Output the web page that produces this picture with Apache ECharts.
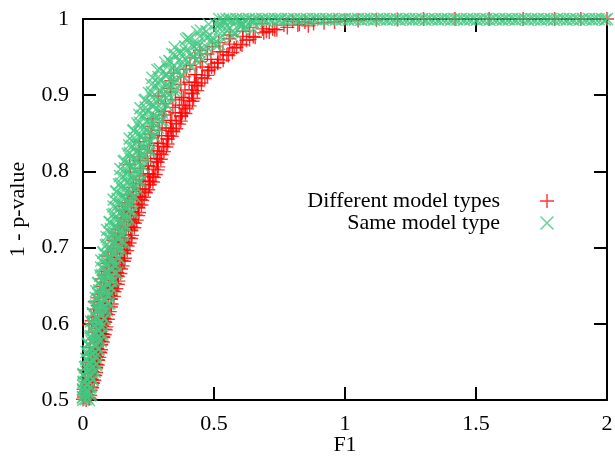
<!DOCTYPE html>
<html><head><meta charset="utf-8">
<script src="https://cdn.jsdelivr.net/npm/echarts@6/dist/echarts.min.js"></script>
<style>html,body{margin:0;padding:0;background:#fff}#c{width:615px;height:456px}</style>
</head><body><div id="c"></div>
<script>
const seriesNames = ['Different model types', 'Same model type'];
const xTicks = [0, 0.5, 1, 1.5, 2];
const yTicks = [0.5, 0.6, 0.7, 0.8, 0.9, 1];

const diffCurve = [
[0.025,0.502],[0.012,0.500],[0.004,0.504],[0.000,0.501],
[0.028,0.512],[0.014,0.507],[0.002,0.514],[0.008,0.509],
[0.038,0.522],[0.031,0.517],[0.017,0.524],[0.005,0.519],
[0.047,0.532],[0.034,0.527],[0.022,0.534],[0.007,0.529],
[0.050,0.542],[0.036,0.537],[0.024,0.544],[0.009,0.539],
[0.058,0.552],[0.051,0.547],[0.037,0.554],[0.025,0.549],
[0.066,0.562],[0.053,0.557],[0.041,0.564],[0.026,0.559],
[0.069,0.572],[0.055,0.567],[0.043,0.574],[0.028,0.569],
[0.078,0.582],[0.071,0.577],[0.057,0.584],[0.045,0.579],
[0.087,0.592],[0.074,0.587],[0.062,0.594],[0.047,0.589],
[0.085,0.602],[0.058,0.597],[0.033,0.604],[0.023,0.599],
[0.096,0.612],[0.082,0.607],[0.055,0.614],[0.040,0.609],
[0.107,0.622],[0.082,0.617],[0.057,0.624],[0.042,0.619],
[0.107,0.632],[0.080,0.627],[0.055,0.634],[0.045,0.629],
[0.120,0.642],[0.106,0.637],[0.079,0.644],[0.064,0.639],
[0.133,0.652],[0.108,0.647],[0.083,0.654],[0.068,0.649],
[0.133,0.662],[0.106,0.657],[0.081,0.664],[0.071,0.659],
[0.145,0.672],[0.131,0.667],[0.104,0.674],[0.089,0.669],
[0.157,0.682],[0.132,0.677],[0.107,0.684],[0.092,0.679],
[0.158,0.692],[0.131,0.687],[0.106,0.694],[0.096,0.689],
[0.171,0.702],[0.157,0.697],[0.130,0.704],[0.115,0.699],
[0.184,0.712],[0.159,0.707],[0.134,0.714],[0.119,0.709],
[0.185,0.722],[0.158,0.717],[0.133,0.724],[0.123,0.719],
[0.198,0.732],[0.184,0.727],[0.157,0.734],[0.142,0.729],
[0.211,0.742],[0.186,0.737],[0.161,0.744],[0.146,0.739],
[0.212,0.752],[0.185,0.747],[0.160,0.754],[0.150,0.749],
[0.226,0.762],[0.212,0.757],[0.185,0.764],[0.170,0.759],
[0.240,0.772],[0.215,0.767],[0.190,0.774],[0.175,0.769],
[0.254,0.782],[0.227,0.777],[0.202,0.784],[0.192,0.779],
[0.271,0.792],[0.257,0.787],[0.230,0.794],[0.215,0.789],
[0.285,0.802],[0.252,0.797],[0.220,0.804],[0.181,0.799],
[0.285,0.812],[0.249,0.807],[0.217,0.814],[0.178,0.809],
[0.300,0.822],[0.282,0.817],[0.246,0.824],[0.214,0.819],
[0.318,0.832],[0.285,0.827],[0.253,0.834],[0.214,0.829],
[0.323,0.842],[0.287,0.837],[0.255,0.844],[0.216,0.839],
[0.345,0.852],[0.327,0.847],[0.291,0.854],[0.259,0.849],
[0.367,0.862],[0.334,0.857],[0.302,0.864],[0.263,0.859],
[0.375,0.872],[0.339,0.867],[0.307,0.874],[0.268,0.869],
[0.397,0.882],[0.379,0.877],[0.343,0.884],[0.311,0.879],
[0.418,0.892],[0.385,0.887],[0.353,0.894],[0.314,0.889],
[0.419,0.902],[0.376,0.897],[0.336,0.904],[0.288,0.899],
[0.439,0.912],[0.416,0.907],[0.373,0.914],[0.333,0.909],
[0.465,0.922],[0.425,0.917],[0.385,0.924],[0.337,0.919],
[0.477,0.932],[0.434,0.927],[0.394,0.934],[0.346,0.929],
[0.514,0.942],[0.491,0.937],[0.448,0.944],[0.408,0.939],
[0.555,0.952],[0.515,0.947],[0.475,0.954],[0.427,0.949],
[0.577,0.962],[0.534,0.957],[0.494,0.964],[0.446,0.959],
[0.624,0.972],[0.601,0.967],[0.558,0.974],[0.518,0.969],
[0.690,0.982],[0.650,0.977],[0.610,0.984],[0.562,0.979],
[0.767,0.992],[0.724,0.987],[0.684,0.994],[0.636,0.989]
];
const diffHalf = [
[0.028,0.506],[0.021,0.503],[0.013,0.507],
[0.035,0.516],[0.029,0.513],[0.020,0.517],
[0.043,0.526],[0.036,0.523],[0.028,0.527],
[0.050,0.536],[0.043,0.533],[0.035,0.537],
[0.056,0.546],[0.050,0.543],[0.041,0.547],
[0.062,0.556],[0.056,0.553],[0.047,0.557],
[0.069,0.566],[0.062,0.563],[0.054,0.567],
[0.076,0.576],[0.069,0.573],[0.061,0.577],
[0.083,0.586],[0.076,0.583],[0.068,0.587],
[0.089,0.596],[0.083,0.593],[0.074,0.597],
[0.095,0.606],[0.082,0.603],[0.065,0.607],
[0.102,0.616],[0.089,0.613],[0.072,0.617],
[0.109,0.626],[0.096,0.623],[0.079,0.627],
[0.118,0.636],[0.105,0.633],[0.088,0.637],
[0.127,0.646],[0.114,0.643],[0.097,0.647],
[0.135,0.656],[0.122,0.653],[0.105,0.657],
[0.143,0.666],[0.130,0.663],[0.113,0.667],
[0.151,0.676],[0.138,0.673],[0.121,0.677],
[0.160,0.686],[0.147,0.683],[0.130,0.687],
[0.169,0.696],[0.156,0.693],[0.139,0.697],
[0.178,0.706],[0.165,0.703],[0.148,0.707],
[0.187,0.716],[0.174,0.713],[0.157,0.717],
[0.196,0.726],[0.183,0.723],[0.166,0.727],
[0.205,0.736],[0.192,0.733],[0.175,0.737],
[0.214,0.746],[0.201,0.743],[0.184,0.747],
[0.223,0.756],[0.210,0.753],[0.193,0.757],
[0.233,0.766],[0.220,0.763],[0.203,0.767],
[0.249,0.776],[0.236,0.773],[0.219,0.777],
[0.267,0.786],[0.254,0.783],[0.237,0.787],
[0.278,0.796],[0.265,0.793],[0.248,0.797],
[0.287,0.806],[0.270,0.803],[0.248,0.807],
[0.297,0.816],[0.280,0.813],[0.258,0.817],
[0.309,0.826],[0.292,0.823],[0.270,0.827],
[0.323,0.836],[0.306,0.833],[0.284,0.837],
[0.339,0.846],[0.322,0.843],[0.300,0.847],
[0.356,0.856],[0.339,0.853],[0.317,0.857],
[0.373,0.866],[0.356,0.863],[0.334,0.867],
[0.391,0.876],[0.374,0.873],[0.352,0.877],
[0.407,0.886],[0.390,0.883],[0.368,0.887],
[0.422,0.896],[0.405,0.893],[0.383,0.897],
[0.436,0.906],[0.415,0.903],[0.389,0.907],
[0.452,0.916],[0.431,0.913],[0.405,0.917],
[0.475,0.926],[0.454,0.923],[0.428,0.927],
[0.502,0.936],[0.481,0.933],[0.455,0.937],
[0.535,0.946],[0.514,0.943],[0.488,0.947],
[0.570,0.956],[0.549,0.953],[0.523,0.957],
[0.607,0.966],[0.586,0.963],[0.560,0.967],
[0.657,0.976],[0.636,0.973],[0.610,0.977],
[0.732,0.986],[0.711,0.983],[0.685,0.987],
[0.847,0.996],[0.826,0.993],[0.800,0.997]
];
const diffTop = [
[0.70,0.984],[0.74,0.986],[0.78,0.989],[0.82,0.992],[0.86,0.991],[0.88,0.994],
[0.92,0.995],[0.96,0.996],[1.00,0.997],[1.05,0.998],[1.12,0.999],[1.20,0.9995],
[1.30,1],[1.42,1],[1.55,1],[1.68,1],[1.80,1],[1.90,1],[2.00,1]
];
const sameCurve = [
[0.000,0.503],[0.001,0.500],[0.011,0.501],[0.023,0.500],
[0.000,0.513],[0.010,0.508],[0.020,0.511],[0.030,0.507],
[0.002,0.523],[0.007,0.518],[0.019,0.521],[0.029,0.517],
[0.000,0.533],[0.013,0.528],[0.029,0.531],[0.038,0.527],
[0.007,0.543],[0.021,0.538],[0.032,0.541],[0.045,0.537],
[0.017,0.553],[0.030,0.548],[0.041,0.551],[0.052,0.547],
[0.013,0.563],[0.026,0.558],[0.039,0.561],[0.050,0.557],
[0.018,0.573],[0.033,0.568],[0.050,0.571],[0.059,0.567],
[0.026,0.583],[0.040,0.578],[0.052,0.581],[0.067,0.577],
[0.036,0.593],[0.050,0.588],[0.062,0.591],[0.074,0.587],
[0.030,0.603],[0.045,0.598],[0.060,0.601],[0.073,0.597],
[0.038,0.613],[0.053,0.608],[0.071,0.611],[0.082,0.607],
[0.045,0.623],[0.062,0.618],[0.075,0.621],[0.091,0.617],
[0.056,0.633],[0.073,0.628],[0.087,0.631],[0.101,0.627],
[0.050,0.643],[0.067,0.638],[0.085,0.641],[0.099,0.637],
[0.058,0.653],[0.076,0.648],[0.097,0.651],[0.109,0.647],
[0.066,0.663],[0.085,0.658],[0.100,0.661],[0.119,0.657],
[0.078,0.673],[0.097,0.668],[0.113,0.671],[0.129,0.667],
[0.070,0.683],[0.090,0.678],[0.110,0.681],[0.126,0.677],
[0.078,0.693],[0.099,0.688],[0.123,0.691],[0.136,0.687],
[0.087,0.703],[0.108,0.698],[0.126,0.701],[0.147,0.697],
[0.100,0.713],[0.122,0.708],[0.140,0.711],[0.158,0.707],
[0.092,0.723],[0.114,0.718],[0.136,0.721],[0.155,0.717],
[0.102,0.733],[0.125,0.728],[0.151,0.731],[0.166,0.727],
[0.112,0.743],[0.135,0.738],[0.155,0.741],[0.178,0.737],
[0.126,0.753],[0.150,0.748],[0.170,0.751],[0.190,0.747],
[0.117,0.763],[0.141,0.758],[0.165,0.761],[0.185,0.757],
[0.127,0.773],[0.152,0.768],[0.180,0.771],[0.197,0.767],
[0.137,0.783],[0.163,0.778],[0.184,0.781],[0.209,0.777],
[0.153,0.793],[0.178,0.788],[0.199,0.791],[0.220,0.787],
[0.143,0.803],[0.169,0.798],[0.195,0.801],[0.216,0.797],
[0.155,0.813],[0.181,0.808],[0.211,0.811],[0.228,0.807],
[0.171,0.823],[0.196,0.818],[0.218,0.821],[0.244,0.817],
[0.188,0.833],[0.214,0.828],[0.236,0.831],[0.258,0.827],
[0.178,0.843],[0.205,0.838],[0.232,0.841],[0.255,0.837],
[0.192,0.853],[0.219,0.848],[0.251,0.851],[0.270,0.847],
[0.207,0.863],[0.236,0.858],[0.259,0.861],[0.287,0.857],
[0.227,0.873],[0.256,0.868],[0.280,0.871],[0.304,0.867],
[0.219,0.883],[0.248,0.878],[0.278,0.881],[0.302,0.877],
[0.235,0.893],[0.265,0.888],[0.300,0.891],[0.320,0.887],
[0.252,0.903],[0.282,0.898],[0.307,0.901],[0.337,0.897],
[0.274,0.913],[0.305,0.908],[0.331,0.911],[0.357,0.907],
[0.265,0.923],[0.297,0.918],[0.329,0.921],[0.355,0.917],
[0.284,0.933],[0.317,0.928],[0.355,0.931],[0.376,0.927],
[0.314,0.943],[0.348,0.938],[0.377,0.941],[0.412,0.937],
[0.351,0.953],[0.390,0.948],[0.423,0.951],[0.455,0.947],
[0.350,0.963],[0.392,0.958],[0.434,0.961],[0.469,0.957],
[0.393,0.973],[0.438,0.968],[0.490,0.971],[0.520,0.967],
[0.436,0.983],[0.484,0.978],[0.524,0.981],[0.572,0.977],
[0.506,0.993],[0.560,0.988],[0.605,0.991],[0.650,0.987],
[0.40,0.975],[0.45,0.985],[0.52,0.992],[0.47,0.975],[0.55,0.985],[0.60,0.993],
[0.42,0.965],[0.37,0.955],[0.33,0.945],[0.44,0.958],[0.50,0.968],[0.58,0.982],
[0.65,0.995],[0.62,0.990],[0.70,0.997],[0.54,0.996],[0.48,0.993],[0.75,0.998]
];
const sameHalf = [
[0.000,0.504],[0.006,0.507],[0.017,0.503],[0.027,0.506],
[0.000,0.514],[0.004,0.517],[0.015,0.513],[0.025,0.516],
[0.003,0.524],[0.015,0.527],[0.027,0.523],[0.037,0.526],
[0.002,0.534],[0.013,0.537],[0.025,0.533],[0.036,0.536],
[0.012,0.544],[0.025,0.547],[0.037,0.543],[0.048,0.546],
[0.012,0.554],[0.023,0.557],[0.035,0.553],[0.046,0.556],
[0.021,0.564],[0.035,0.567],[0.048,0.563],[0.059,0.566],
[0.020,0.574],[0.032,0.577],[0.045,0.573],[0.057,0.576],
[0.031,0.584],[0.045,0.587],[0.058,0.583],[0.070,0.586],
[0.029,0.594],[0.041,0.597],[0.055,0.593],[0.068,0.596],
[0.040,0.604],[0.055,0.607],[0.070,0.603],[0.083,0.606],
[0.038,0.614],[0.052,0.617],[0.067,0.613],[0.080,0.616],
[0.050,0.624],[0.067,0.627],[0.083,0.623],[0.097,0.626],
[0.048,0.634],[0.063,0.637],[0.079,0.633],[0.093,0.636],
[0.061,0.644],[0.079,0.647],[0.096,0.643],[0.111,0.646],
[0.059,0.654],[0.074,0.657],[0.091,0.653],[0.107,0.656],
[0.072,0.664],[0.091,0.667],[0.108,0.663],[0.124,0.666],
[0.069,0.674],[0.085,0.677],[0.103,0.673],[0.120,0.676],
[0.082,0.684],[0.103,0.687],[0.121,0.683],[0.138,0.686],
[0.079,0.694],[0.096,0.697],[0.116,0.693],[0.133,0.696],
[0.093,0.704],[0.115,0.707],[0.135,0.703],[0.153,0.706],
[0.090,0.714],[0.109,0.717],[0.129,0.713],[0.148,0.716],
[0.106,0.724],[0.129,0.727],[0.150,0.723],[0.169,0.726],
[0.102,0.734],[0.122,0.737],[0.143,0.733],[0.163,0.736],
[0.119,0.744],[0.143,0.747],[0.165,0.743],[0.185,0.746],
[0.116,0.754],[0.136,0.757],[0.158,0.753],[0.178,0.756],
[0.132,0.764],[0.156,0.767],[0.179,0.763],[0.200,0.766],
[0.128,0.774],[0.149,0.777],[0.172,0.773],[0.193,0.776],
[0.145,0.784],[0.170,0.787],[0.193,0.783],[0.214,0.786],
[0.141,0.794],[0.163,0.797],[0.186,0.793],[0.208,0.796],
[0.160,0.804],[0.186,0.807],[0.209,0.803],[0.231,0.806],
[0.159,0.814],[0.180,0.817],[0.204,0.813],[0.225,0.816],
[0.179,0.824],[0.205,0.827],[0.229,0.823],[0.251,0.826],
[0.176,0.834],[0.198,0.837],[0.223,0.833],[0.246,0.836],
[0.196,0.844],[0.223,0.847],[0.249,0.843],[0.272,0.846],
[0.194,0.854],[0.218,0.857],[0.244,0.853],[0.267,0.856],
[0.217,0.864],[0.246,0.867],[0.272,0.863],[0.296,0.866],
[0.215,0.874],[0.240,0.877],[0.267,0.873],[0.291,0.876],
[0.239,0.884],[0.269,0.887],[0.297,0.883],[0.322,0.886],
[0.239,0.894],[0.264,0.897],[0.291,0.893],[0.316,0.896],
[0.263,0.904],[0.293,0.907],[0.322,0.903],[0.347,0.906],
[0.261,0.914],[0.288,0.917],[0.317,0.913],[0.343,0.916],
[0.288,0.924],[0.320,0.927],[0.350,0.923],[0.377,0.926],
[0.293,0.934],[0.321,0.937],[0.352,0.933],[0.380,0.936],
[0.333,0.944],[0.369,0.947],[0.402,0.943],[0.432,0.946],
[0.341,0.954],[0.375,0.957],[0.412,0.953],[0.445,0.956],
[0.390,0.964],[0.433,0.967],[0.472,0.963],[0.508,0.966],
[0.406,0.974],[0.445,0.977],[0.488,0.973],[0.527,0.976],
[0.471,0.984],[0.522,0.987],[0.568,0.983],[0.611,0.986],
[0.524,0.994],[0.564,0.997],[0.608,0.993],[0.648,0.996]
];
const sameTop = [
[0.520,1],[0.535,0.9992],[0.548,0.9996],[0.560,1],[0.571,0.9988],[0.585,1],[0.597,0.9994],
[0.610,1],[0.622,0.9990],[0.633,1],[0.647,0.9995],[0.659,1],[0.671,0.9989],[0.684,1],
[0.695,0.9994],[0.708,1],[0.720,0.9991],[0.733,1],[0.745,0.9996],[0.756,1],[0.770,0.9990],
[0.781,1],[0.794,0.9995],[0.806,1],[0.818,0.9991],[0.830,1],[0.843,0.9994],[0.855,1],
[0.866,0.9990],[0.879,1],[0.891,0.9996],[0.903,1],[0.916,0.9991],[0.928,1],[0.940,0.9995],
[0.952,1],[0.965,0.9990],[0.977,1],[0.989,0.9994],[1.000,1],[1.013,0.9991],[1.025,1],
[1.037,0.9995],[1.050,1],[1.062,0.9990],[1.074,1],[1.086,0.9996],[1.099,1],[1.111,0.9991],
[1.123,1],[1.135,0.9994],[1.148,1],[1.160,0.9990],[1.172,1],[1.184,0.9995],[1.197,1],
[1.209,0.9991],[1.221,1],[1.233,0.9996],[1.246,1],[1.258,0.9990],[1.270,1],[1.282,0.9994],
[1.295,1],[1.307,0.9991],[1.319,1],[1.331,0.9995],[1.344,1],[1.356,0.9990],[1.368,1],
[1.380,0.9996],[1.393,1],[1.405,0.9991],[1.417,1],[1.429,0.9994],[1.442,1],[1.454,0.9990],
[1.466,1],[1.478,0.9995],[1.491,1],[1.503,0.9991],[1.515,1],[1.527,0.9996],[1.540,1],
[1.552,0.9990],[1.564,1],[1.576,0.9994],[1.589,1],[1.601,0.9991],[1.613,1],[1.625,0.9995],
[1.638,1],[1.650,0.9990],[1.662,1],[1.674,0.9996],[1.687,1],[1.699,0.9991],[1.711,1],
[1.723,0.9994],[1.736,1],[1.748,0.9990],[1.760,1],[1.772,0.9995],[1.785,1],[1.797,0.9991],
[1.809,1],[1.821,0.9996],[1.834,1],[1.846,0.9990],[1.858,1],[1.870,0.9994],[1.883,1],
[1.895,0.9991],[1.907,1],[1.919,0.9995],[1.932,1],[1.944,0.9990],[1.956,1],[1.968,0.9996],
[1.981,1],[1.993,0.9991],[2.000,1]
];

const FONT = 'Liberation Serif';
const plusPath = 'path://M4.5,0H5.5V10H4.5Z M0,4.5H10V5.5H0Z';
const crossPath = 'path://M0,0.8L0.8,0L10,9.2L9.2,10Z M9.2,0L10,0.8L0.8,10L0,9.2Z';
const RED = '#ff0000';
const GREEN = '#45c882';

const xMin = xTicks[0], xMax = xTicks[xTicks.length - 1], xStep = xTicks[1] - xTicks[0];
const yMin = yTicks[0], yMax = yTicks[yTicks.length - 1], yStep = +(yTicks[1] - yTicks[0]).toFixed(3);

const lineStyle = { color: '#000', width: 2 };
const labelStyle = { fontFamily: FONT, fontSize: 22, color: '#000' };

function xAx(pos, main) {
  return {
    type: 'value', position: pos, min: xMin, max: xMax, interval: xStep,
    axisLine: { show: true, onZero: false, lineStyle },
    axisTick: { show: true, inside: true, length: 13, lineStyle },
    axisLabel: Object.assign({ show: main, margin: 13 }, labelStyle),
    splitLine: { show: false },
    name: main ? 'F1' : '', nameLocation: 'middle', nameGap: 34, nameMoveOverlap: false,
    nameTextStyle: labelStyle
  };
}
function yAx(pos, main) {
  return {
    type: 'value', position: pos, min: yMin, max: yMax, interval: yStep,
    axisLine: { show: true, onZero: false, lineStyle },
    axisTick: { show: true, inside: true, length: 13, lineStyle },
    axisLabel: Object.assign({ show: main, margin: 14 }, labelStyle),
    splitLine: { show: false },
    name: main ? '1 - p-value' : '', nameLocation: 'middle', nameGap: 54, nameMoveOverlap: false,
    nameTextStyle: labelStyle
  };
}

const chart = echarts.init(document.getElementById('c'), null, { renderer: 'canvas' });
chart.setOption({
  animation: false,
  backgroundColor: '#fff',
  grid: { left: 83, right: 8, top: 19, bottom: 56, containLabel: false, outerBoundsMode: 'none' },
  xAxis: [xAx('bottom', true), xAx('top', false)],
  yAxis: [yAx('left', true), yAx('right', false)],
  legend: {
    orient: 'vertical', align: 'right', right: 56, top: 185,
    itemWidth: 14, itemHeight: 14, itemGap: 0, selectedMode: false,
    textStyle: Object.assign({ lineHeight: 19, padding: [0, 35, 0, 0] }, labelStyle),
    data: [
      { name: seriesNames[0], icon: plusPath, itemStyle: { color: RED } },
      { name: seriesNames[1], icon: crossPath, itemStyle: { color: GREEN } }
    ]
  },
  series: [
    {
      name: seriesNames[0], type: 'scatter', symbol: plusPath, symbolSize: 14,
      clip: false, itemStyle: { color: RED }, emphasis: { disabled: true },
      data: diffCurve.concat(diffHalf, diffTop), z: 2
    },
    {
      name: seriesNames[1], type: 'scatter', symbol: crossPath, symbolSize: 13,
      clip: false, itemStyle: { color: GREEN }, emphasis: { disabled: true },
      data: sameCurve.concat(sameHalf, sameTop), z: 3
    }
  ]
});
</script>
</body></html>
